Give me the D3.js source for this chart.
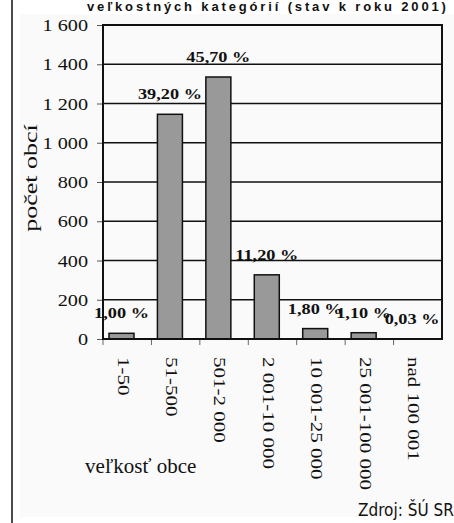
<!DOCTYPE html>
<html>
<head>
<meta charset="utf-8">
<script src="https://cdn.jsdelivr.net/npm/d3@7"></script>
<style>
  html, body { margin: 0; padding: 0; background: #ffffff; }
  svg { display: block; }
</style>
</head>
<body>
<svg id="chart" width="454" height="523"></svg>
<script>
// Počet obcí podľa veľkostných kategórií (stav k roku 2001)
const categories = ["1-50", "51-500", "501-2 000", "2 001-10 000", "10 001-25 000", "25 001-100 000", "nad 100 001"];
const counts = [29, 1145, 1335, 327, 53, 32, 1];
const shareLabels = ["1,00 %", "39,20 %", "45,70 %", "11,20 %", "1,80 %", "1,10 %", "0,03 %"];
const yTicks = [0, 200, 400, 600, 800, 1000, 1200, 1400, 1600];

const svg = d3.select("#chart");
const W = 454, H = 523;
const plot = { left: 103, right: 442, top: 25, bottom: 339 };

const serif = "'Liberation Serif', 'Times New Roman', serif";
const sans = "'Liberation Sans', Arial, sans-serif";
const narrow = "'Liberation Sans Narrow', 'DejaVu Sans Condensed', 'Liberation Sans', sans-serif";

// page background and left rule
svg.append("rect").attr("x", 0).attr("y", 0).attr("width", W).attr("height", H).attr("fill", "#ffffff");
svg.append("rect").attr("x", 20).attr("y", 14).attr("width", W - 20).attr("height", 503).attr("fill", "#fafafa");
svg.append("line").attr("x1", 12).attr("x2", 12).attr("y1", 0).attr("y2", H)
  .attr("stroke", "#111").attr("stroke-width", 1.5);

// title line
svg.append("text")
  .attr("x", 87).attr("y", 11)
  .attr("font-family", sans).attr("font-weight", "bold").attr("font-size", 13)
  .attr("letter-spacing", 2.85)
  .attr("fill", "#111")
  .text("veľkostných kategórií (stav k roku 2001)");

const x = d3.scaleBand().domain(categories).range([plot.left, plot.right]).padding(0);
const y = d3.scaleLinear().domain([0, 1600]).range([plot.bottom, plot.top]);

const barOffset = 6, barWidth = 25;
const barCenter = c => x(c) + barOffset + barWidth / 2;

const fmt = d3.formatLocale({ decimal: ",", thousands: "\u2009", grouping: [3], currency: ["", ""] }).format(",d");

// horizontal gridlines
svg.append("g").selectAll("line").data(yTicks.slice(1, -1)).join("line")
  .attr("x1", plot.left).attr("x2", plot.right)
  .attr("y1", d => y(d)).attr("y2", d => y(d))
  .attr("stroke", "#111").attr("stroke-width", 1.5);

// y axis ticks and labels
const yAxis = svg.append("g").attr("transform", `translate(${plot.left},0)`)
  .call(d3.axisLeft(y).tickValues(yTicks).tickSize(6).tickFormat(""));
yAxis.select(".domain").remove();
yAxis.selectAll(".tick line").attr("stroke", "#555").attr("stroke-width", 1);

svg.append("g").selectAll("text").data(yTicks).join("text")
  .attr("transform", d => `translate(88,${y(d)}) scale(1.19,1)`)
  .attr("dy", "0.36em")
  .attr("text-anchor", "end")
  .attr("font-family", serif).attr("font-size", 17).attr("fill", "#111")
  .text(d => fmt(d).replace(/\u2009/g, " "));

// x axis ticks at category boundaries
const xAxis = svg.append("g").attr("transform", `translate(0,${plot.bottom})`)
  .call(d3.axisBottom(x).tickSize(6).tickFormat(""));
xAxis.select(".domain").remove();
xAxis.selectAll(".tick").attr("transform", d => `translate(${x(d)},0)`);
xAxis.selectAll(".tick line").attr("stroke", "#666").attr("stroke-width", 1);

// bars
svg.append("g").selectAll("rect").data(categories).join("rect")
  .attr("x", c => x(c) + barOffset)
  .attr("width", barWidth)
  .attr("y", (c, i) => y(counts[i]))
  .attr("height", (c, i) => y(0) - y(counts[i]))
  .attr("fill", "#999999")
  .attr("stroke", "#111").attr("stroke-width", 1.5);

// plot frame
svg.append("rect")
  .attr("x", plot.left).attr("y", plot.top)
  .attr("width", plot.right - plot.left).attr("height", plot.bottom - plot.top)
  .attr("fill", "none").attr("stroke", "#111").attr("stroke-width", 2);

// share labels above bars
svg.append("g").selectAll("text").data(categories).join("text")
  .attr("transform", (c, i) => `translate(${barCenter(c)},${y(counts[i]) - 15}) scale(1.22,1)`)
  .attr("text-anchor", "middle")
  .attr("font-family", serif).attr("font-weight", "bold").attr("font-size", 15)
  .attr("fill", "#111")
  .text((c, i) => shareLabels[i]);

// rotated category labels
svg.append("g").selectAll("text").data(categories).join("text")
  .attr("transform", c => `translate(${barCenter(c) + 2},357) scale(0.8,1) rotate(90)`)
  .attr("dy", "0.35em")
  .attr("text-anchor", "start")
  .attr("font-family", serif).attr("font-size", 21).attr("fill", "#111")
  .text(c => c);

// axis titles
svg.append("text")
  .attr("transform", "translate(30,178) scale(0.72,1) rotate(-90)")
  .attr("dy", "0.35em")
  .attr("text-anchor", "middle")
  .attr("font-family", serif).attr("font-size", 26).attr("fill", "#111")
  .text("počet obcí");

svg.append("text")
  .attr("x", 85).attr("y", 473)
  .attr("font-family", serif).attr("font-size", 21).attr("fill", "#111")
  .text("veľkosť obce");

// source note
svg.append("text")
  .attr("x", 358).attr("y", 516)
  .attr("font-family", narrow).attr("font-size", 17).attr("fill", "#111")
  .text("Zdroj: ŠÚ SR");
</script>
</body>
</html>
